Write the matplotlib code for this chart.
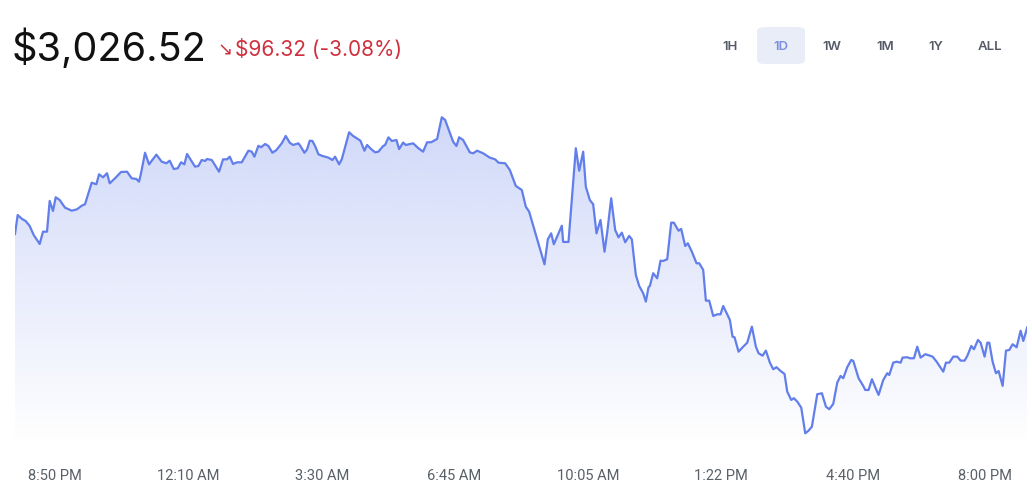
import numpy as np
import matplotlib
matplotlib.use("Agg")
import matplotlib.pyplot as plt
from matplotlib.patches import FancyBboxPatch, Polygon

# ---- data (minutes since window start, ETH price in USD) ----
minutes = [0, 4, 10, 16, 22, 28, 37, 42, 48, 52, 57, 61, 67, 75, 85, 93, 100, 105, 115, 122,
           126, 132, 138, 142, 150, 159, 168, 175, 182, 186, 189, 195, 201, 212, 220, 227, 232, 238, 244, 249,
           254, 258, 270, 275, 280, 285, 288, 295, 306, 312, 318, 322, 327, 333, 340, 350, 355, 359, 365, 369,
           375, 380, 386, 392, 400, 406, 412, 417, 425, 428, 434, 438, 442, 446, 450, 455, 460, 470, 476, 480,
           486, 490, 501, 507, 518, 524, 528, 534, 540, 545, 552, 555, 560, 565, 572, 576, 582, 586, 597, 605,
           612, 618, 624, 633, 640, 645, 657, 662, 666, 672, 682, 687, 693, 702, 712, 720, 725, 735, 742, 751,
           760, 766, 771, 794, 799, 804, 808, 820, 822, 830, 841, 846, 852, 856, 862, 867, 872, 878, 884, 888,
           894, 900, 905, 910, 915, 921, 925, 931, 936, 942, 946, 950, 952, 957, 963, 968, 972, 978, 984, 988,
           995, 999, 1005, 1009, 1015, 1022, 1026, 1032, 1036, 1041, 1047, 1053, 1058, 1062, 1068, 1072, 1076, 1079, 1085, 1092,
           1098, 1105, 1111, 1115, 1121, 1126, 1132, 1137, 1142, 1148, 1154, 1158, 1164, 1168, 1173, 1179, 1185, 1190, 1195, 1203,
           1210, 1216, 1221, 1227, 1233, 1238, 1242, 1248, 1254, 1257, 1265, 1272, 1275, 1280, 1285, 1290, 1295, 1302, 1308, 1311,
           1317, 1322, 1328, 1331, 1338, 1342, 1348, 1353, 1358, 1365, 1372, 1376, 1382, 1386, 1392, 1396, 1401, 1407, 1413, 1418,
           1424, 1428, 1434, 1438, 1444, 1448, 1454, 1458, 1461, 1466, 1471, 1475, 1481, 1486, 1491, 1496, 1502, 1508, 1512, 1518]
prices = [3122.8, 3142.4, 3138.6, 3136.2, 3131.1, 3121.8, 3112.5, 3125.2, 3125.2, 3156.9, 3146.6, 3160.7, 3157.9, 3150.0, 3146.9, 3148.3, 3152.0, 3153.5, 3175.8, 3174.1,
          3184.4, 3181.3, 3185.5, 3175.1, 3180.3, 3186.8, 3187.1, 3180.3, 3179.6, 3176.8, 3185.5, 3206.7, 3194.7, 3204.7, 3197.4, 3195.8, 3198.5, 3189.9, 3190.6, 3196.8,
          3194.7, 3205.4, 3192.3, 3193.0, 3199.2, 3198.2, 3200.2, 3199.2, 3187.1, 3199.9, 3199.9, 3202.6, 3195.1, 3196.8, 3196.8, 3208.8, 3207.8, 3202.6, 3213.9, 3212.3,
          3215.7, 3213.6, 3206.7, 3209.5, 3216.4, 3224.0, 3217.0, 3214.7, 3216.4, 3213.6, 3206.7, 3210.2, 3219.1, 3218.8, 3213.6, 3205.1, 3203.6, 3201.6, 3199.2, 3202.6,
          3194.7, 3199.9, 3227.8, 3224.0, 3219.1, 3208.8, 3214.7, 3210.5, 3207.1, 3207.8, 3213.6, 3214.7, 3222.6, 3218.8, 3219.8, 3210.5, 3217.2, 3214.7, 3216.4, 3211.3,
          3207.8, 3217.5, 3217.5, 3220.9, 3243.3, 3240.5, 3218.1, 3213.6, 3222.6, 3219.8, 3207.1, 3206.1, 3208.8, 3206.1, 3201.6, 3199.9, 3196.4, 3195.8, 3188.9, 3172.4,
          3168.2, 3151.0, 3145.8, 3091.5, 3117.3, 3123.5, 3112.2, 3131.4, 3114.6, 3114.6, 3211.3, 3188.1, 3207.8, 3171.6, 3157.9, 3153.5, 3123.5, 3137.3, 3104.5, 3124.2,
          3159.7, 3126.9, 3119.4, 3124.2, 3114.3, 3120.8, 3117.3, 3080.5, 3069.2, 3061.6, 3053.0, 3067.8, 3069.2, 3082.3, 3077.1, 3095.3, 3095.0, 3096.7, 3134.5, 3134.5,
          3126.2, 3128.0, 3110.4, 3113.2, 3104.5, 3092.6, 3092.6, 3085.7, 3054.0, 3054.0, 3038.2, 3039.9, 3039.9, 3048.5, 3039.9, 3034.1, 3016.8, 3016.2, 3001.3, 3006.5,
          3010.6, 3027.2, 3006.5, 2999.7, 2997.2, 3002.4, 2990.0, 2983.2, 2985.3, 2981.4, 2978.3, 2960.1, 2951.5, 2953.3, 2949.8, 2943.6, 2917.1, 2919.8, 2924.0, 2957.4,
          2958.4, 2944.6, 2941.9, 2947.4, 2969.4, 2976.3, 2973.9, 2985.3, 2992.8, 2991.8, 2973.9, 2966.0, 2961.8, 2961.8, 2972.9, 2964.6, 2956.7, 2972.1, 2979.1, 2977.3,
          2990.0, 2991.0, 2990.0, 2995.2, 2995.6, 2994.5, 2994.5, 3006.5, 2995.2, 2998.7, 2997.2, 2996.2, 2991.0, 2986.9, 2980.7, 2990.0, 2990.0, 2996.2, 2996.2, 2992.1,
          2992.1, 2996.9, 3007.2, 3003.8, 3013.4, 3010.6, 2996.2, 3010.6, 3010.6, 2991.0, 2979.1, 2981.4, 2966.0, 3002.4, 3003.1, 3009.0, 3005.9, 3023.0, 3012.4, 3026.52]
tick_minutes = [60, 260, 460, 658, 860, 1059, 1256, 1455]
tick_labels = ["8:50 PM", "12:10 AM", "3:30 AM", "6:45 AM", "10:05 AM", "1:22 PM", "4:40 PM", "8:00 PM"]
price_label = "$3,026.52"
change_label = "$96.32 (-3.08%)"
ranges = ["1H", "1D", "1W", "1M", "1Y", "ALL"]
active_range = "1D"

LINE = "#627EEA"
W, H = 1032, 483
fig = plt.figure(figsize=(W / 100, H / 100), dpi=100)
fig.patch.set_facecolor("white")

ax = fig.add_axes([15 / W, 1 - 445 / H, (1027.3 - 15) / W, 335 / H])
x = np.array(minutes, dtype=float)
y = np.array(prices, dtype=float)
ymin, ymax = 2905.0, 3250.8
ax.set_xlim(x[0], x[-1])
ax.set_ylim(ymin, ymax)

# gradient fill under the line
grad = np.linspace(0.30, 0.0, 256).reshape(-1, 1)
rgba = np.zeros((256, 1, 4))
c = matplotlib.colors.to_rgb(LINE)
rgba[..., 0], rgba[..., 1], rgba[..., 2] = c
rgba[..., 3] = grad
top = y.max()
im = ax.imshow(rgba, aspect="auto", extent=[x[0], x[-1], ymin, top], origin="upper", zorder=1)
verts = np.vstack([np.column_stack([x, y]), [[x[-1], ymin], [x[0], ymin]]])
poly = Polygon(verts, closed=True, facecolor="none", edgecolor="none")
ax.add_patch(poly)
im.set_clip_path(poly)

ax.plot(x, y, color=LINE, lw=1.6, solid_joinstyle="round", zorder=3)

for s in ax.spines.values():
    s.set_visible(False)
ax.set_yticks([])
ax.set_xticks(tick_minutes)
ax.set_xticklabels(tick_labels, fontsize=10.5, color="#5a6068", family=["Roboto", "DejaVu Sans"])
ax.tick_params(axis="x", length=0, pad=17)
ax.set_facecolor("none")

# header
fig.text(12 / W, 1 - 61 / H, price_label, fontsize=28.5, color="#111111",
         family=["Inter", "DejaVu Sans"], va="baseline", ha="left")
fig.text(217 / W, 1 - 56 / H, "\u2198", fontsize=13, color="#cf303e",
         family=["DejaVu Sans"], va="baseline", ha="left")
fig.text(235 / W, 1 - 56 / H, change_label, fontsize=15, color="#cf303e",
         family=["Inter", "DejaVu Sans"], va="baseline", ha="left")

centers = [730, 781, 832, 885, 936, 990]
for lab, cx in zip(ranges, centers):
    if lab == active_range:
        box = FancyBboxPatch((757 / W, 1 - 64 / H), 48 / W, 37 / H,
                             boxstyle="round,pad=0,rounding_size=0.008",
                             transform=fig.transFigure, facecolor="#e9edf7",
                             edgecolor="none", zorder=0)
        fig.add_artist(box)
        col = "#7b8fdf"
    else:
        col = "#545a66"
    fig.text(cx / W, 1 - 47 / H, lab, fontsize=9.5, color=col, fontweight="semibold",
             family=["Inter", "DejaVu Sans"], ha="center", va="center")

fig.savefig("out.png", dpi=100, facecolor="white")
